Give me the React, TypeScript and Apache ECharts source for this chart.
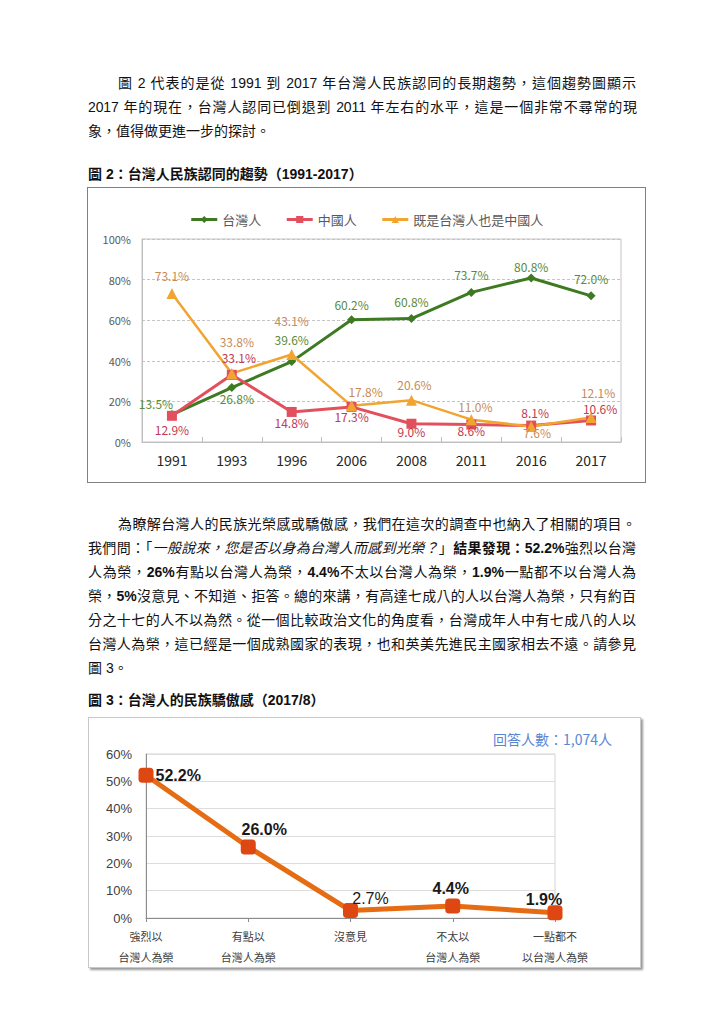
import React, { useEffect, useRef } from "react";
import * as echarts from "echarts";

// ---------- data ----------
const surveyYears = ["1991", "1993", "1996", "2006", "2008", "2011", "2016", "2017"];
const taiwaneseShare = [13.5, 26.8, 39.6, 60.2, 60.8, 73.7, 80.8, 72.0];
const chineseShare = [12.9, 33.1, 14.8, 17.3, 9.0, 8.6, 8.1, 10.6];
const bothShare = [73.1, 33.8, 43.1, 17.8, 20.6, 11.0, 7.6, 12.1];
const identityNames = ["台灣人", "中國人", "既是台灣人也是中國人"];

const prideCategories = [
  "強烈以\n台灣人為榮",
  "有點以\n台灣人為榮",
  "沒意見",
  "不太以\n台灣人為榮",
  "一點都不\n以台灣人為榮",
];
const prideShare = [52.2, 26.0, 2.7, 4.4, 1.9];
const respondentNote = "回答人數：1,074人";

// ---------- label placement (layout only) ----------
type Place = [string, number, number];
const twPlace: Place[] = [
  ["top", -16, -1], ["bottom", 5, 0], ["top", 0, -12], ["top", 0, -5],
  ["top", 0, -7], ["top", 0, -7], ["top", 0, -1], ["top", 0, -7],
];
const cnPlace: Place[] = [
  ["bottom", 0, 3], ["top", 7, -6], ["bottom", 0, 0], ["bottom", 0, -1],
  ["bottom", 0, -3], ["bottom", 0, -5], ["top", 4, -2], ["top", 9, -1],
];
const bothPlace: Place[] = [
  ["top", 0, -7], ["top", 5, -20], ["top", 0, -23], ["top", 14, -3],
  ["top", 3, -4], ["top", 4, -2], ["bottom", 6, -6], ["top", 7, -13],
];
const pridePlace: Place[] = [
  ["right", 0, 0], ["top", 16, 0], ["top", 20, 5], ["top", -2, 0], ["top", -11, 4],
];

const CJK = '"Noto Sans CJK TC", "Noto Sans CJK SC", sans-serif';
const BODY = '"Liberation Sans", "Noto Sans CJK TC", sans-serif';

function placed(values: number[], place: Place[], extra?: (i: number) => any) {
  return values.map((v, i) => ({
    value: v,
    label: {
      position: place[i][0],
      offset: [place[i][1], place[i][2]],
      ...(extra ? extra(i) : {}),
    },
  }));
}

const pct = (p: any) => Number(p.value).toFixed(1) + "%";

function useChart(option: any) {
  const ref = useRef<HTMLDivElement>(null);
  useEffect(() => {
    if (!ref.current) return;
    const chart = echarts.init(ref.current, null, { renderer: "svg" });
    chart.setOption(option);
    return () => chart.dispose();
  }, []);
  return ref;
}

function IdentityChart() {
  const lineSeries = (
    name: string,
    values: number[],
    place: Place[],
    color: string,
    labelColor: string,
    symbol: string,
    symbolSize: number,
    width: number
  ) => ({
    type: "line",
    name,
    data: placed(values, place),
    symbol,
    symbolSize,
    lineStyle: { width, color },
    itemStyle: { color },
    label: {
      show: true,
      formatter: pct,
      fontSize: 12,
      color: labelColor,
      distance: 0,
      fontFamily: CJK,
    },
  });
  const ref = useChart({
    animation: false,
    textStyle: { fontFamily: CJK },
    legend: {
      top: 20,
      left: "center",
      itemWidth: 26,
      itemHeight: 9,
      itemGap: 24,
      lineStyle: { width: 3 },
      textStyle: { fontSize: 13, color: "#595959", fontFamily: CJK },
      data: identityNames,
    },
    grid: {
      left: 54,
      right: 24,
      top: 51,
      bottom: 40,
      show: true,
      borderColor: "#C4C4C4",
      borderWidth: 1,
    },
    xAxis: {
      type: "category",
      data: surveyYears,
      boundaryGap: true,
      axisLine: { lineStyle: { color: "#BFBFBF" } },
      axisTick: { show: true, inside: true, length: 5, lineStyle: { color: "#BFBFBF" } },
      axisLabel: { fontSize: 14, color: "#262626", margin: 11, fontFamily: CJK },
    },
    yAxis: {
      type: "value",
      min: 0,
      max: 100,
      interval: 20,
      axisLine: { show: true, lineStyle: { color: "#BFBFBF" } },
      axisTick: { show: false },
      axisLabel: { formatter: "{value}%", fontSize: 11, color: "#595959", margin: 11, fontFamily: CJK },
      splitLine: { show: true, lineStyle: { color: "#C4C4C4", type: [3, 2] } },
    },
    series: [
      lineSeries(identityNames[0], taiwaneseShare, twPlace, "#3D7A21", "#5A8A3C", "diamond", 9, 3),
      lineSeries(identityNames[1], chineseShare, cnPlace, "#E2505E", "#C13A4E", "rect", 10, 3),
      lineSeries(identityNames[2], bothShare, bothPlace, "#F2A431", "#C98A55", "triangle", 11, 2.5),
    ],
  });
  return <div ref={ref} style={{ width: 557, height: 294 }} />;
}

function PrideChart() {
  const ref = useChart({
    animation: false,
    textStyle: { fontFamily: BODY },
    graphic: [
      {
        type: "text",
        right: 28,
        top: 14,
        style: { text: respondentNote, fontSize: 14, fill: "#5A86D5", fontFamily: CJK },
      },
    ],
    grid: {
      left: 57,
      right: 85,
      top: 36,
      bottom: 48,
      show: true,
      borderColor: "#D4D4D4",
      borderWidth: 1,
    },
    xAxis: {
      type: "category",
      data: prideCategories,
      boundaryGap: false,
      axisLine: { lineStyle: { color: "#8C8C8C" } },
      axisTick: { show: true, length: 4, lineStyle: { color: "#8C8C8C" } },
      axisLabel: {
        fontSize: 11,
        color: "#404040",
        lineHeight: 21,
        margin: 7,
        fontFamily: CJK,
        interval: 0,
      },
    },
    yAxis: {
      type: "value",
      min: 0,
      max: 60,
      interval: 10,
      axisLine: { show: true, lineStyle: { color: "#8C8C8C" } },
      axisTick: { show: false },
      axisLabel: { formatter: "{value}%", fontSize: 13, color: "#404040", margin: 14, fontFamily: BODY },
      splitLine: { show: true, lineStyle: { color: "#DDDDDD" } },
    },
    series: [
      {
        type: "line",
        data: placed(prideShare, pridePlace, (i) => (i === 2 ? { fontWeight: "normal" } : {})),
        symbol: "roundRect",
        symbolSize: 15,
        lineStyle: { width: 5, color: "#E66C14" },
        itemStyle: { color: "#DE4612" },
        label: {
          show: true,
          formatter: pct,
          fontSize: 16,
          fontWeight: "bold",
          color: "#1A1A1A",
          distance: 2,
          fontFamily: BODY,
        },
      },
    ],
  });
  return <div ref={ref} style={{ width: 551, height: 249 }} />;
}

type Seg = { t: string; b?: boolean; i?: boolean };

function Line(props: {
  x: number;
  y: number;
  w: number;
  segs: Seg[];
  justify?: boolean;
  tight?: boolean;
  bold?: boolean;
}) {
  const { x, y, w, segs, justify, tight, bold } = props;
  return (
    <div
      style={{
        position: "absolute",
        left: x,
        top: y - 12,
        width: w,
        height: 24,
        lineHeight: "24px",
        fontSize: 14,
        fontFamily: BODY,
        color: "#111",
        fontWeight: bold ? "bold" : "normal",
        textAlign: justify ? "justify" : "left",
        textAlignLast: justify ? "justify" : "auto",
        letterSpacing: tight ? "-0.1px" : undefined,
        whiteSpace: justify ? "normal" : "nowrap",
      } as any}
    >
      {segs.map((s, k) => (
        <span key={k} style={{ fontWeight: s.b ? "bold" : undefined, fontStyle: s.i ? "italic" : undefined }}>
          {s.t}
        </span>
      ))}
    </div>
  );
}

export default function App() {
  return (
    <div
      style={{
        position: "absolute",
        left: 0,
        top: 0,
        width: 724,
        height: 1024,
        background: "#fff",
        overflow: "hidden",
      }}
    >
      <Line x={118} y={83} w={518} justify segs={[{ t: "圖 2 代表的是從 1991 到 2017 年台灣人民族認同的長期趨勢，這個趨勢圖顯示" }]} />
      <Line x={88} y={107} w={549} justify tight segs={[{ t: "2017 年的現在，台灣人認同已倒退到 2011 年左右的水平，這是一個非常不尋常的現" }]} />
      <Line x={88} y={131} w={548} segs={[{ t: "象，值得做更進一步的探討。" }]} />

      <Line x={88} y={174} w={548} bold segs={[{ t: "圖 2：台灣人民族認同的趨勢（1991-2017）" }]} />

      <div
        style={{
          position: "absolute",
          left: 87,
          top: 187,
          width: 557,
          height: 294,
          border: "1px solid #808080",
        }}
      >
        <IdentityChart />
      </div>

      <Line x={118} y={524} w={518} justify segs={[{ t: "為瞭解台灣人的民族光榮感或驕傲感，我們在這次的調查中也納入了相關的項目。" }]} />
      <Line
        x={88}
        y={548}
        w={548}
        justify
        segs={[
          { t: "我們問：「" },
          { t: "一般說來，您是否以身為台灣人而感到光榮？", i: true },
          { t: "」" },
          { t: "結果發現：52.2%", b: true },
          { t: "強烈以台灣" },
        ]}
      />
      <Line
        x={88}
        y={572}
        w={548}
        justify
        segs={[
          { t: "人為榮，" },
          { t: "26%", b: true },
          { t: "有點以台灣人為榮，" },
          { t: "4.4%", b: true },
          { t: "不太以台灣人為榮，" },
          { t: "1.9%", b: true },
          { t: "一點都不以台灣人為" },
        ]}
      />
      <Line
        x={88}
        y={596}
        w={548}
        justify
        segs={[
          { t: "榮，" },
          { t: "5%", b: true },
          { t: "沒意見、不知道、拒答。總的來講，有高達七成八的人以台灣人為榮，只有約百" },
        ]}
      />
      <Line x={88} y={620} w={548} justify segs={[{ t: "分之十七的人不以為然。從一個比較政治文化的角度看，台灣成年人中有七成八的人以" }]} />
      <Line x={88} y={644} w={548} justify segs={[{ t: "台灣人為榮，這已經是一個成熟國家的表現，也和英美先進民主國家相去不遠。請參見" }]} />
      <Line x={88} y={668} w={548} segs={[{ t: "圖 3。" }]} />

      <Line x={88} y={700} w={548} bold segs={[{ t: "圖 3：台灣人的民族驕傲感（2017/8）" }]} />

      <div
        style={{
          position: "absolute",
          left: 88,
          top: 717,
          width: 551,
          height: 249,
          border: "1px solid #C8C8C8",
          boxShadow: "2px 2px 2px #9A9A9A",
        }}
      >
        <PrideChart />
      </div>
    </div>
  );
}
